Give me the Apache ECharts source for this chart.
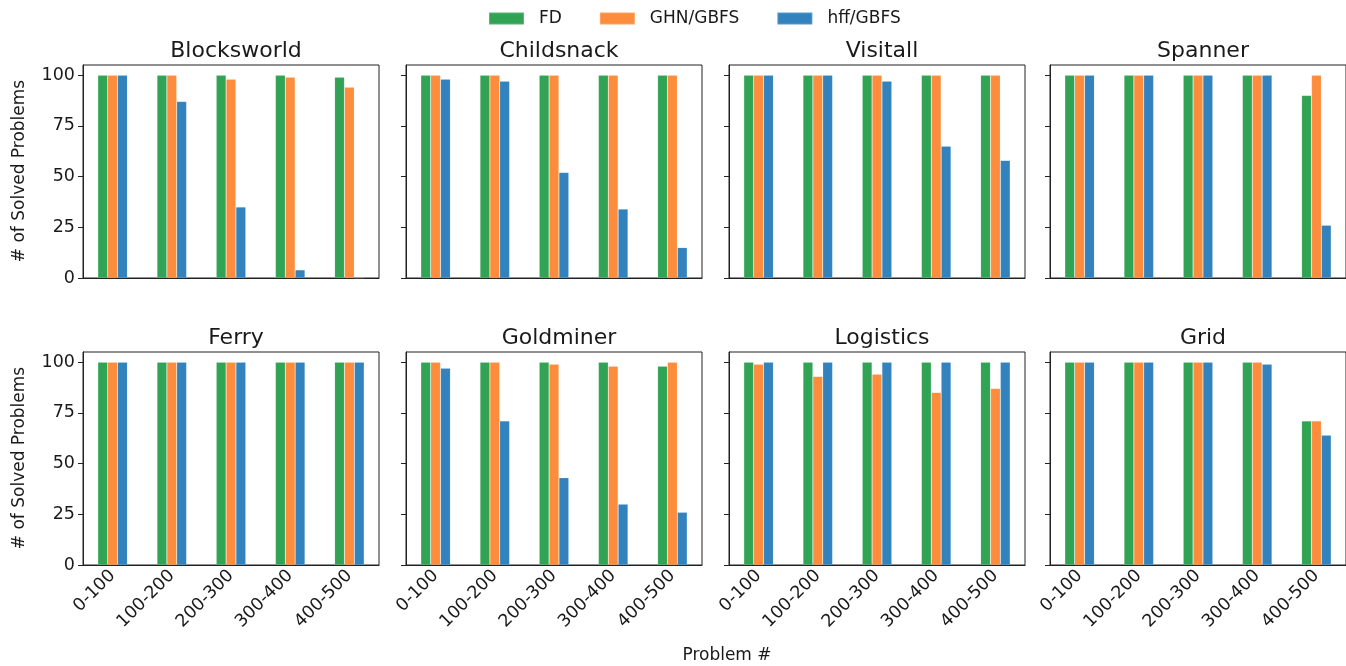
<!DOCTYPE html>
<html>
<head>
<meta charset="utf-8">
<script src="https://cdn.jsdelivr.net/npm/echarts@6/dist/echarts.min.js"></script>
<style>
html,body{margin:0;padding:0;background:#fff;}
#chart{width:1346px;height:666px;}
</style>
</head>
<body>
<div id="chart"></div>
<script>
const categories = ['0-100', '100-200', '200-300', '300-400', '400-500'];
const seriesNames = ['FD', 'GHN/GBFS', 'hff/GBFS'];
const domains = ['Blocksworld', 'Childsnack', 'Visitall', 'Spanner', 'Ferry', 'Goldminer', 'Logistics', 'Grid'];
const yTicks = [0, 25, 50, 75, 100];

const fdValues = [
  [100, 100, 100, 100, 99],
  [100, 100, 100, 100, 100],
  [100, 100, 100, 100, 100],
  [100, 100, 100, 100, 90],
  [100, 100, 100, 100, 100],
  [100, 100, 100, 100, 98],
  [100, 100, 100, 100, 100],
  [100, 100, 100, 100, 71]
];
const ghnValues = [
  [100, 100, 98, 99, 94],
  [100, 100, 100, 100, 100],
  [100, 100, 100, 100, 100],
  [100, 100, 100, 100, 100],
  [100, 100, 100, 100, 100],
  [100, 100, 99, 98, 100],
  [99, 93, 94, 85, 87],
  [100, 100, 100, 100, 71]
];
const hffValues = [
  [100, 87, 35, 4, 0],
  [98, 97, 52, 34, 15],
  [100, 100, 97, 65, 58],
  [100, 100, 100, 100, 26],
  [100, 100, 100, 100, 100],
  [97, 71, 43, 30, 26],
  [100, 100, 100, 100, 100],
  [100, 100, 100, 99, 64]
];
const colors = ['#31a354', '#fd8d3c', '#3182bd'];

const lefts = [83, 406, 729, 1050];
const tops = [65, 352];
const W = 296, H = 213;
const textColor = '#1a1a1a';
const font = 'DejaVu Sans';

const grids = [], xAxes = [], yAxes = [], series = [], titles = [];
domains.forEach((d, i) => {
  const r = Math.floor(i / 4), c = i % 4;
  grids.push({left: lefts[c], top: tops[r], width: W, height: H, show: true,
    borderColor: '#222', borderWidth: 1, backgroundColor: 'transparent', containLabel: false});
  xAxes.push({type: 'category', gridIndex: i, data: categories,
    axisLine: {lineStyle: {color: '#222', width: 1}},
    axisTick: {alignWithLabel: true, length: 5, lineStyle: {color: '#222'}},
    axisLabel: {show: r === 1, rotate: 45, fontSize: 17.5, color: textColor, fontFamily: font, margin: 8},
    splitLine: {show: false}});
  yAxes.push({type: 'value', gridIndex: i, min: 0, max: 105,
    axisLine: {show: true, lineStyle: {color: '#222', width: 1}},
    axisTick: {show: true, length: 5, lineStyle: {color: '#222'}, customValues: yTicks},
    axisLabel: {show: c === 0, fontSize: 17.5, color: textColor, fontFamily: font, margin: 8, customValues: yTicks},
    splitLine: {show: false}});
  titles.push({text: d, left: lefts[c] + W / 2, top: tops[r] - 30, textAlign: 'center',
    textStyle: {fontSize: 22, fontWeight: 'normal', color: textColor, fontFamily: font}});
  const vals = [fdValues[i], ghnValues[i], hffValues[i]];
  seriesNames.forEach((n, k) => {
    series.push({name: n, type: 'bar', xAxisIndex: i, yAxisIndex: i, data: vals[k],
      barGap: '0%', barCategoryGap: '50%',
      itemStyle: {color: colors[k], borderColor: 'rgba(255,255,255,0.2)', borderWidth: 0.6},
      emphasis: {disabled: true}, animation: false});
  });
});

const chart = echarts.init(document.getElementById('chart'), null, {renderer: 'canvas'});
chart.setOption({
  backgroundColor: '#fff',
  animation: false,
  title: titles,
  legend: {data: seriesNames, top: 5, left: 483, itemWidth: 35, itemHeight: 12, itemGap: 37,
    icon: 'rect',
    textStyle: {fontSize: 17, color: textColor, fontFamily: font, padding: [0, 0, 0, 10]}},
  grid: grids,
  xAxis: xAxes,
  yAxis: yAxes,
  series: series,
  graphic: [
    {type: 'text', x: 20, y: 171, rotation: Math.PI / 2,
      style: {text: '# of Solved Problems', fontSize: 17, fill: textColor, fontFamily: font, textAlign: 'center', textVerticalAlign: 'middle'}},
    {type: 'text', x: 20, y: 458, rotation: Math.PI / 2,
      style: {text: '# of Solved Problems', fontSize: 17, fill: textColor, fontFamily: font, textAlign: 'center', textVerticalAlign: 'middle'}},
    {type: 'text', x: 727, y: 656,
      style: {text: 'Problem #', fontSize: 17, fill: textColor, fontFamily: font, textAlign: 'center', textVerticalAlign: 'middle'}}
  ]
});
</script>
</body>
</html>
